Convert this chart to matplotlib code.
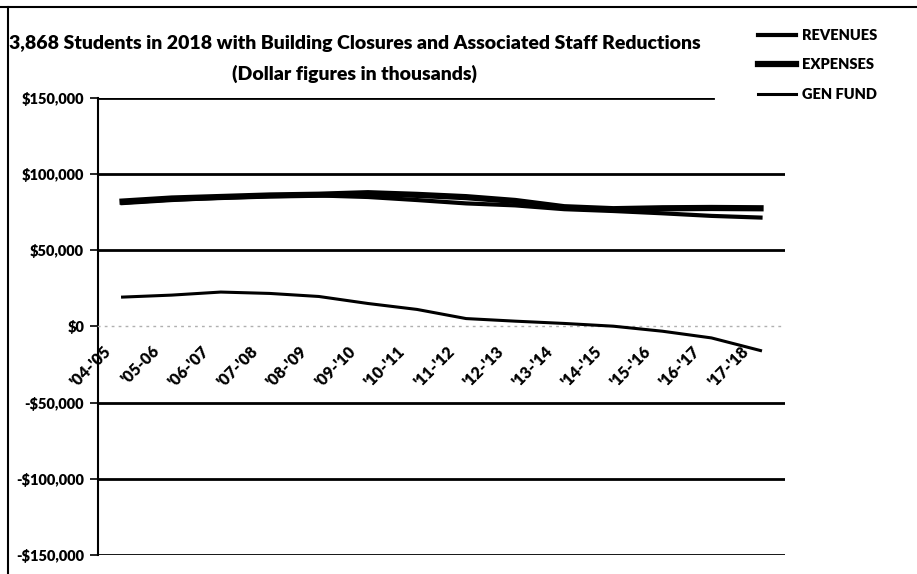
import matplotlib
matplotlib.use("Agg")
import matplotlib.pyplot as plt
import matplotlib.transforms as mtransforms
from matplotlib.lines import Line2D
from matplotlib.ticker import FuncFormatter

plt.rcParams['font.family'] = ['Lato', 'DejaVu Sans']
plt.rcParams['font.weight'] = 'heavy'

# Datos (miles de dolares)
years = ["'04-'05", "'05-06", "'06-'07", "'07-'08", "'08-'09", "'09-'10", "'10-'11",
         "'11-'12", "'12-'13", "'13-'14", "'14-'15", "'15-'16", "'16-'17", "'17-'18"]
revenues = [81000, 83000, 84500, 85500, 86000, 85000, 83000,
            80800, 79500, 77000, 75800, 74300, 72600, 71500]
expenses = [82000, 84000, 85000, 86000, 86500, 87500, 86400,
            84900, 82400, 78300, 77000, 77600, 77800, 77600]
gen_fund = [19300, 20600, 22600, 21700, 19700, 15100, 11200,
            5200, 3500, 2000, 200, -3100, -7500, -15800]
y_ticks = [-150000, -100000, -50000, 0, 50000, 100000, 150000]

fig = plt.figure(figsize=(9.17, 5.74), dpi=100)
ax = fig.add_axes([0.1069, 0.0331, 0.7492, 0.7962])

x = list(range(len(years)))
ax.plot(x, revenues, color='black', lw=3.0, label='REVENUES', zorder=3)
ax.plot(x, expenses, color='black', lw=4.5, label='EXPENSES', zorder=3)
ax.plot(x, gen_fund, color='black', lw=2.2, label='GEN FUND', zorder=3)

ax.set_xlim(-0.5, len(years) - 0.5)
ax.set_ylim(-150000, 150000)

# Lineas de cuadricula (la de arriba queda tapada por la leyenda)
for v in y_ticks:
    if v == 150000:
        ax.axhline(v, xmax=0.895, color='black', lw=2, zorder=1)
    elif v != 0:
        ax.axhline(v, color='black', lw=2, zorder=1)

ax.set_yticks(y_ticks)
ax.yaxis.set_major_formatter(FuncFormatter(
    lambda v, p: ('-$' if v < 0 else '$') + f"{abs(int(v)):,}"))
ax.tick_params(axis='y', length=6, width=1.2, direction='out', labelsize=10.5, pad=4)

# Eje x en cero
ax.spines['bottom'].set_position(('data', 0))
ax.spines['bottom'].set_linestyle((0, (1, 4)))
ax.spines['bottom'].set_color('#b0b0b0')
ax.spines['bottom'].set_linewidth(1)
ax.spines['top'].set_visible(False)
ax.spines['right'].set_visible(False)
ax.spines['left'].set_linewidth(1.5)

ax.set_xticks(x)
ax.set_xticklabels(years, rotation=45, ha='right', rotation_mode='anchor', fontsize=11.5)
ax.tick_params(axis='x', length=0, pad=12)
offset = mtransforms.ScaledTranslation(-20 / 100, 0, fig.dpi_scale_trans)
for lbl in ax.get_xticklabels():
    lbl.set_transform(lbl.get_transform() + offset)

fig.text(355 / 917, 1 - 44 / 574, "3,868 Students in 2018 with Building Closures and Associated Staff Reductions",
         ha='center', va='center', fontsize=14, fontweight='heavy')
fig.text(355 / 917, 1 - 74 / 574, "(Dollar figures in thousands)",
         ha='center', va='center', fontsize=14, fontweight='heavy')

leg = ax.legend(loc='upper left', bbox_to_anchor=(746 / 917, 1 - 17 / 574),
                bbox_transform=fig.transFigure, frameon=False, fontsize=10.5,
                handlelength=2.6, handletextpad=0.45, labelspacing=1.15, borderpad=0.3)
for t in leg.get_texts():
    t.set_fontweight('heavy')

# Borde del grafico
fig.add_artist(Line2D([0, 1], [1 - 7 / 574, 1 - 7 / 574], color='black', lw=1.5,
                      transform=fig.transFigure))
fig.add_artist(Line2D([8 / 917, 8 / 917], [0, 1 - 7 / 574], color='black', lw=1.5,
                      transform=fig.transFigure))

fig.savefig('out.png', dpi=100)
